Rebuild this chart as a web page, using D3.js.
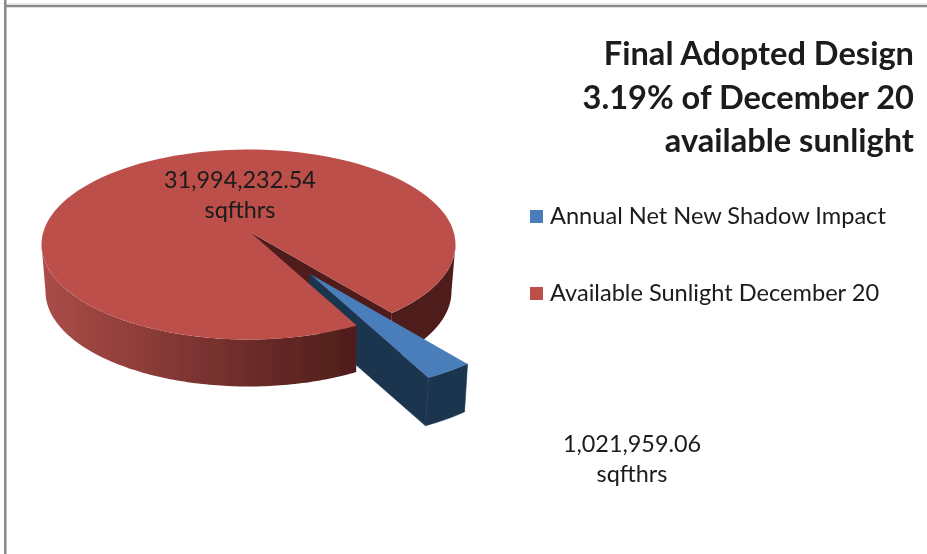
<!DOCTYPE html>
<html>
<head>
<meta charset="utf-8">
<script src="https://cdn.jsdelivr.net/npm/d3@7"></script>
<style>
  body { margin: 0; background: #fff; }
  svg { display: block; }
  text { font-family: Lato, "Open Sans", sans-serif; fill: #1a1a1a; }
</style>
</head>
<body>
<svg width="927" height="554"></svg>
<script>
var categories = ["Annual Net New Shadow Impact", "Available Sunlight December 20"]
var values = [1021959.06, 31994232.54]
var value_labels = [["1,021,959.06", "sqfthrs"], ["31,994,232.54", "sqfthrs"]]
var title_lines = ["Final Adopted Design", "3.19% of December 20", "available sunlight"]
var top_colors = ["#4a7ebb", "#bd4f4c"]

// top face ellipse and the (off centre) point the slices meet at
var top_face = { cx: 248.5, cy: 244.5, rx: 207, ry: 95, ox: 250, oy: 232 }
var depth = 47
var bottom_face = { cx: 248.5, cy: 244.5 + depth, rx: 203, ry: 95, ox: 250, oy: 232 + depth }
var squash = top_face.ry / top_face.rx
var tilt = 141.2 * Math.PI / 180
var maroon = "#4f1d1a"
var navy = "#1f3550"

// where a ray at pie angle a hits the ellipse
function rim_point(face, a) {
    var dx = Math.sin(a), dy = -Math.cos(a) * squash
    var px = face.ox - face.cx, py = face.oy - face.cy
    var A = dx * dx / (face.rx * face.rx) + dy * dy / (face.ry * face.ry)
    var B = 2 * (px * dx / (face.rx * face.rx) + py * dy / (face.ry * face.ry))
    var C = px * px / (face.rx * face.rx) + py * py / (face.ry * face.ry) - 1
    var t = (-B + Math.sqrt(B * B - 4 * A * C)) / (2 * A)
    return [face.ox + t * dx, face.oy + t * dy]
}

function rim_points(face, a0, a1) {
    return d3.range(0, 121).map(function (i) {
        return rim_point(face, a0 + (a1 - a0) * i / 120)
    })
}

function draw_poly(g, pts, fill) {
    return g.append("path")
        .attr("d", d3.line()(pts) + "Z")
        .attr("fill", fill)
}

function pie_chart() {
    var svg = d3.select("svg")
    var color = d3.scaleOrdinal().domain(categories).range(top_colors)

    var defs = svg.append("defs")
    defs.append("filter").attr("id", "soft")
        .append("feGaussianBlur").attr("stdDeviation", 0.45)
    var grad = defs.append("linearGradient").attr("id", "side")
        .attr("gradientUnits", "userSpaceOnUse")
        .attr("x1", 42).attr("x2", 357).attr("y1", 0).attr("y2", 0)
    grad.selectAll("stop")
        .data([[0, "#ab4d49"], [0.3, "#8f3d39"], [0.65, "#6d2c2a"], [1, maroon]])
        .enter().append("stop")
        .attr("offset", function (d) { return d[0] })
        .attr("stop-color", function (d) { return d[1] })

    // frame
    svg.append("line").attr("x1", 0).attr("x2", 927).attr("y1", 3.5).attr("y2", 3.5)
        .attr("stroke", "#eeeeee").attr("stroke-width", 1)
    svg.append("line").attr("x1", 4).attr("x2", 927).attr("y1", 6).attr("y2", 6)
        .attr("stroke", "#8a8a8a").attr("stroke-width", 2.5)
    svg.append("line").attr("x1", 5.3).attr("x2", 5.3).attr("y1", 0).attr("y2", 554)
        .attr("stroke", "#8a8a8a").attr("stroke-width", 2.5)

    var slices = d3.pie().sort(null).startAngle(tilt).endAngle(tilt + 2 * Math.PI)(values)
    var blue = slices[0], red = slices[1]

    var g = svg.append("g").attr("filter", "url(#soft)")
    var apex = [top_face.ox, top_face.oy]
    var apex_low = [bottom_face.ox, bottom_face.oy]

    // rays that reach the left and right extremes of the ellipse
    var side_shift = Math.atan((top_face.cy - top_face.oy) / top_face.rx / squash)
    var right_start = Math.PI / 2 + side_shift
    var left_end = Math.PI * 1.5 - side_shift

    // back wall of the notch and the dark right hand wall
    var right_top = rim_points(top_face, right_start, blue.startAngle)
    var right_bottom = rim_points(bottom_face, right_start, blue.startAngle).reverse()
    draw_poly(g, right_top.concat(right_bottom), maroon)
    draw_poly(g, [apex, rim_point(top_face, blue.startAngle), rim_point(bottom_face, blue.startAngle), apex_low], maroon)

    // pulled out slice, its walls first
    var blue_apex = [310, 274]
    var blue_scale = 1.11
    var blue_rim = rim_points(top_face, blue.startAngle, blue.endAngle).map(function (p) {
        return [blue_apex[0] + (p[0] - apex[0]) * blue_scale, blue_apex[1] + (p[1] - apex[1]) * blue_scale]
    })
    var blue_low = blue_rim.map(function (p) { return [p[0] - 3, p[1] + 48] })
    var last = blue_rim[blue_rim.length - 1]
    var last_low = blue_low[blue_low.length - 1]
    draw_poly(g, blue_rim.concat(blue_low.slice().reverse()), navy)
        .attr("stroke", navy).attr("stroke-width", 0.6)
    draw_poly(g, [blue_apex, last, last_low, [blue_apex[0] - 3, blue_apex[1] + 48]], navy)
        .attr("stroke", navy).attr("stroke-width", 0.6)

    // front wall of the big slice
    var front_top = rim_points(top_face, red.startAngle, left_end)
    var front_bottom = rim_points(bottom_face, red.startAngle, left_end).reverse()
    draw_poly(g, front_top.concat(front_bottom), "url(#side)")

    // top faces
    draw_poly(g, [apex].concat(rim_points(top_face, red.startAngle, red.endAngle)), color(categories[1]))
    draw_poly(g, [blue_apex].concat(blue_rim), color(categories[0]))

    // title
    var t = svg.append("g").attr("filter", "url(#soft)")
    t.selectAll("text.title")
        .data(title_lines)
        .enter().append("text")
        .attr("class", "title")
        .attr("x", 914)
        .attr("y", function (d, i) { return 65 + i * 43.5 })
        .attr("text-anchor", "end")
        .attr("font-size", 32.6)
        .attr("font-weight", 700)
        .text(function (d) { return d })

    // legend
    var legend = t.selectAll("g.legend")
        .data(categories)
        .enter().append("g")
        .attr("class", "legend")
        .attr("transform", function (d, i) { return "translate(530," + (210 + i * 77) + ")" })
    legend.append("rect")
        .attr("width", 13).attr("height", 13)
        .attr("fill", function (d) { return color(d) })
    legend.append("text")
        .attr("x", 20).attr("y", 14)
        .attr("font-size", 23.6)
        .text(function (d) { return d })

    // value labels
    var label_pos = [[632, 452], [240, 188]]
    value_labels.forEach(function (lines, k) {
        lines.forEach(function (line, i) {
            t.append("text")
                .attr("x", label_pos[k][0])
                .attr("y", label_pos[k][1] + i * 29.5)
                .attr("text-anchor", "middle")
                .attr("font-size", 23.4)
                .text(line)
        })
    })
}

pie_chart()
</script>
</body>
</html>
